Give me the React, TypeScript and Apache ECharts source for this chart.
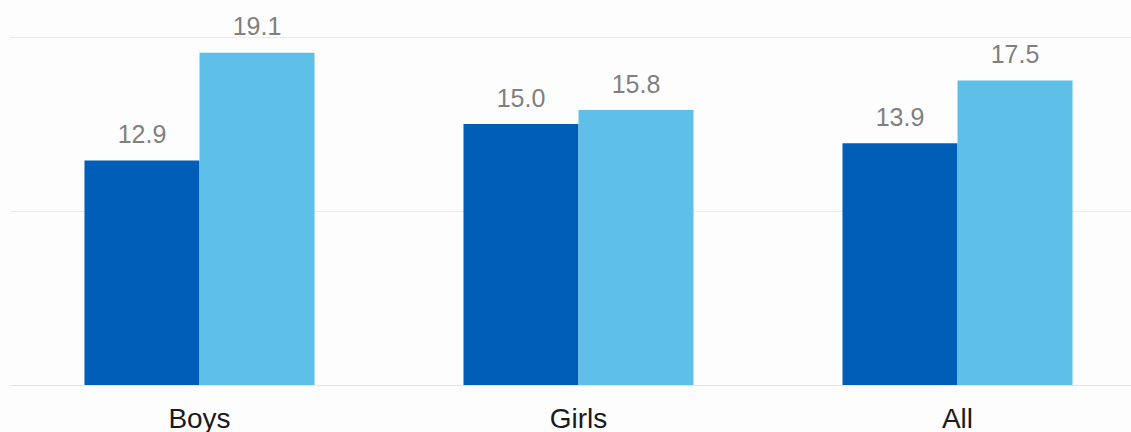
import React, { useEffect, useRef } from "react";
import * as echarts from "echarts";

const categories = ["Boys", "Girls", "All"];
const seriesA = [12.9, 15.0, 13.9];
const seriesB = [19.1, 15.8, 17.5];

export default function App() {
  const ref = useRef<HTMLDivElement>(null);
  useEffect(() => {
    if (!ref.current) return;
    const chart = echarts.init(ref.current, undefined, { renderer: "svg" });
    const label = {
      show: true,
      position: "top",
      distance: 14,
      color: "#808080",
      fontSize: 25,
      fontFamily: "Liberation Sans, Arial, sans-serif",
      formatter: (p: any) => Number(p.value).toFixed(1),
    };
    chart.setOption({
      animation: false,
      backgroundColor: "#fdfdfd",
      grid: { left: 10, top: 37, width: 1137, height: 348, containLabel: false },
      xAxis: {
        type: "category",
        data: categories,
        axisLine: { show: true, lineStyle: { color: "#e6e6e6", width: 1 } },
        axisTick: { show: false },
        axisLabel: {
          color: "#1a1a1a",
          fontSize: 28,
          margin: 19,
          fontFamily: "Liberation Sans, Arial, sans-serif",
        },
      },
      yAxis: {
        type: "value",
        min: 0,
        max: 20,
        interval: 10,
        axisLabel: { show: false },
        axisLine: { show: false },
        axisTick: { show: false },
        splitLine: { lineStyle: { color: "#ebebeb", width: 1 } },
      },
      series: [
        {
          type: "bar",
          data: seriesA,
          barGap: "0%",
          barCategoryGap: "39.3%",
          itemStyle: { color: "#005EB8" },
          label,
        },
        {
          type: "bar",
          data: seriesB,
          barGap: "0%",
          barCategoryGap: "39.3%",
          itemStyle: { color: "#5EC0E9" },
          label,
        },
      ],
    });
    return () => chart.dispose();
  }, []);
  return (
    <div
      style={{
        position: "fixed",
        left: 0,
        top: 0,
        width: 1131,
        height: 432,
        overflow: "hidden",
        background: "#fdfdfd",
      }}
    >
      <div ref={ref} style={{ width: 1160, height: 432 }} />
    </div>
  );
}
